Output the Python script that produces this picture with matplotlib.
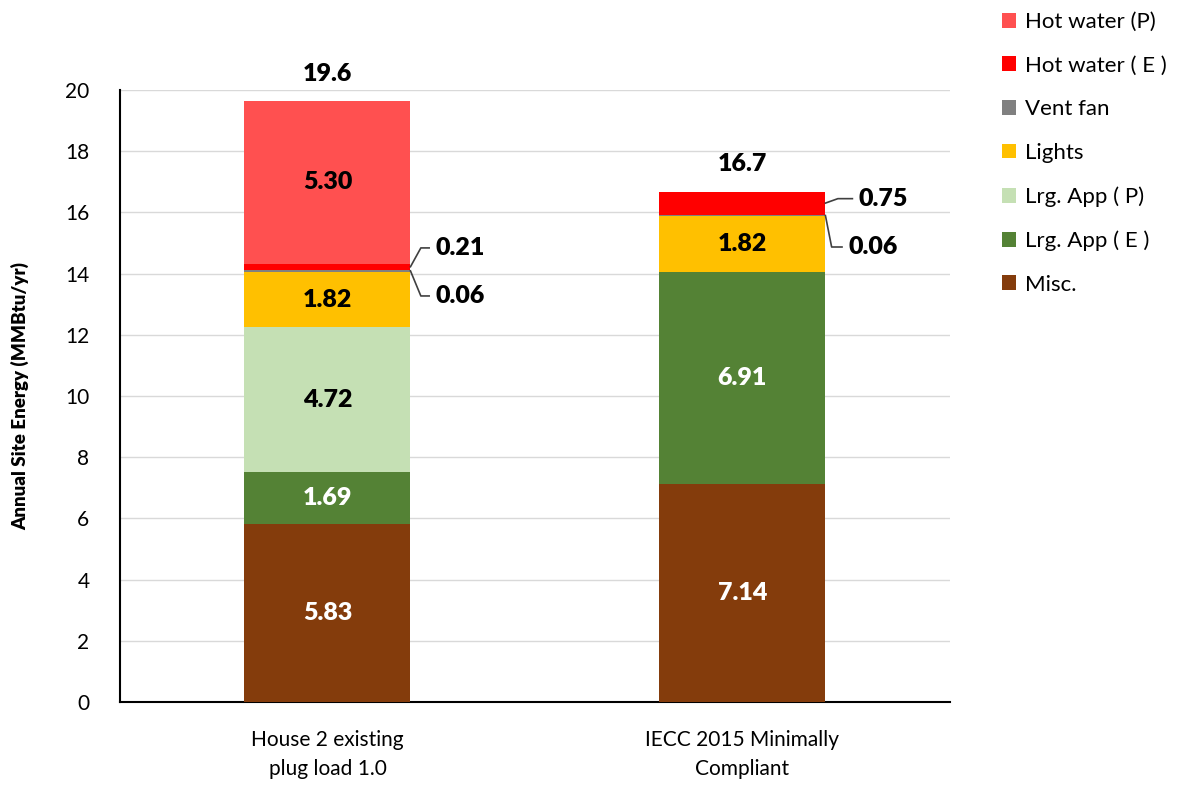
import numpy as np
import matplotlib.pyplot as plt

plt.rcParams['font.family'] = ['Lato', 'DejaVu Sans']

# --------------------------
# DATA
# --------------------------
scenarios = ['House 2 existing\nplug load 1.0', 'IECC 2015 Minimally\nCompliant']
components = ['Misc.', 'Lrg. App ( E )', 'Lrg. App ( P)', 'Lights', 'Vent fan',
              'Hot water ( E )', 'Hot water (P)']
misc = [5.83, 7.14]
lrg_app_e = [1.69, 6.91]
lrg_app_p = [4.72, 0.0]
lights = [1.82, 1.82]
vent_fan = [0.06, 0.06]
hot_water_e = [0.21, 0.75]
hot_water_p = [5.30, 0.0]
totals = [19.6, 16.7]

colors = ['#843C0C', '#548235', '#C5E0B4', '#FFC000', '#808080', '#FF0000', '#FF5050']
text_colors = ['white', 'white', 'black', 'black', 'black', 'black', 'black']

series = [misc, lrg_app_e, lrg_app_p, lights, vent_fan, hot_water_e, hot_water_p]

# --------------------------
# PLOT
# --------------------------
fig = plt.figure(figsize=(11.8, 7.87), dpi=100)
ax = fig.add_axes([0.1017, 0.108, 0.7033, 0.7776])

x = np.arange(len(scenarios))
width = 0.4
bottom = np.zeros(len(scenarios))
handles = []
for vals, col, tcol, name in zip(series, colors, text_colors, components):
    vals = np.array(vals)
    bars = ax.bar(x, vals, width, bottom=bottom, color=col, label=name, zorder=3)
    handles.append(bars)
    # labels inside the bigger segments
    for xi, v, b in zip(x, vals, bottom):
        if v >= 1.0:
            ax.text(xi, b + v / 2, f'{v:.2f}', ha='center', va='center',
                    fontsize=18, fontweight='heavy', color=tcol, zorder=4)
    bottom += vals

# totals on top
for xi, t, top in zip(x, totals, bottom):
    ax.text(xi, top + 0.55, f'{t:.1f}', ha='center', va='bottom',
            fontsize=18, fontweight='heavy', color='black')

# leader lines for the thin segments
def leader(xi, y0, y1, dx1, dx2, value):
    xe = xi + width / 2
    ax.plot([xe, xe + dx1, xe + dx2], [y0, y1, y1], color='#404040', lw=1.2,
            zorder=4, clip_on=False)
    ax.text(xe + dx2 + 0.015, y1, f'{value:.2f}', ha='left', va='center',
            fontsize=18, fontweight='heavy', color='black')

base0 = misc[0] + lrg_app_e[0] + lrg_app_p[0] + lights[0]
leader(0, base0 + vent_fan[0] + hot_water_e[0] / 2, 14.84, 0.025, 0.045, hot_water_e[0])
leader(0, base0 + vent_fan[0] / 2, 13.27, 0.025, 0.045, vent_fan[0])
base1 = misc[1] + lrg_app_e[1] + lrg_app_p[1] + lights[1]
leader(1, base1 + vent_fan[1] + hot_water_e[1] / 2, 16.45, 0.03, 0.065, hot_water_e[1])
leader(1, base1 + vent_fan[1] / 2, 14.87, 0.015, 0.04, vent_fan[1])

# --------------------------
# STYLE
# --------------------------
ax.set_xlim(-0.5, 1.5)
ax.set_ylim(0, 20)
ax.set_yticks(np.arange(0, 21, 2))
ax.set_xticks(x)
ax.set_xticklabels(scenarios, fontsize=15, linespacing=1.6)
ax.tick_params(axis='y', labelsize=15, length=0, pad=22)
ax.tick_params(axis='x', length=0, pad=20)
ax.grid(axis='y', color='#D9D9D9', lw=1, zorder=0)
for s in ['top', 'right']:
    ax.spines[s].set_visible(False)
ax.spines['left'].set_linewidth(1.5)
ax.spines['bottom'].set_linewidth(1.5)
ax.set_ylabel('Annual Site Energy (MMBtu/yr)', fontsize=13.5, fontweight='heavy', labelpad=26)

leg = fig.legend(handles[::-1], components[::-1], loc='upper left',
                 bbox_to_anchor=(0.832, 1.01), frameon=False, fontsize=16,
                 handlelength=0.65, handleheight=0.65, handletextpad=0.4,
                 labelspacing=1.06)

fig.savefig('out.png', dpi=100)
